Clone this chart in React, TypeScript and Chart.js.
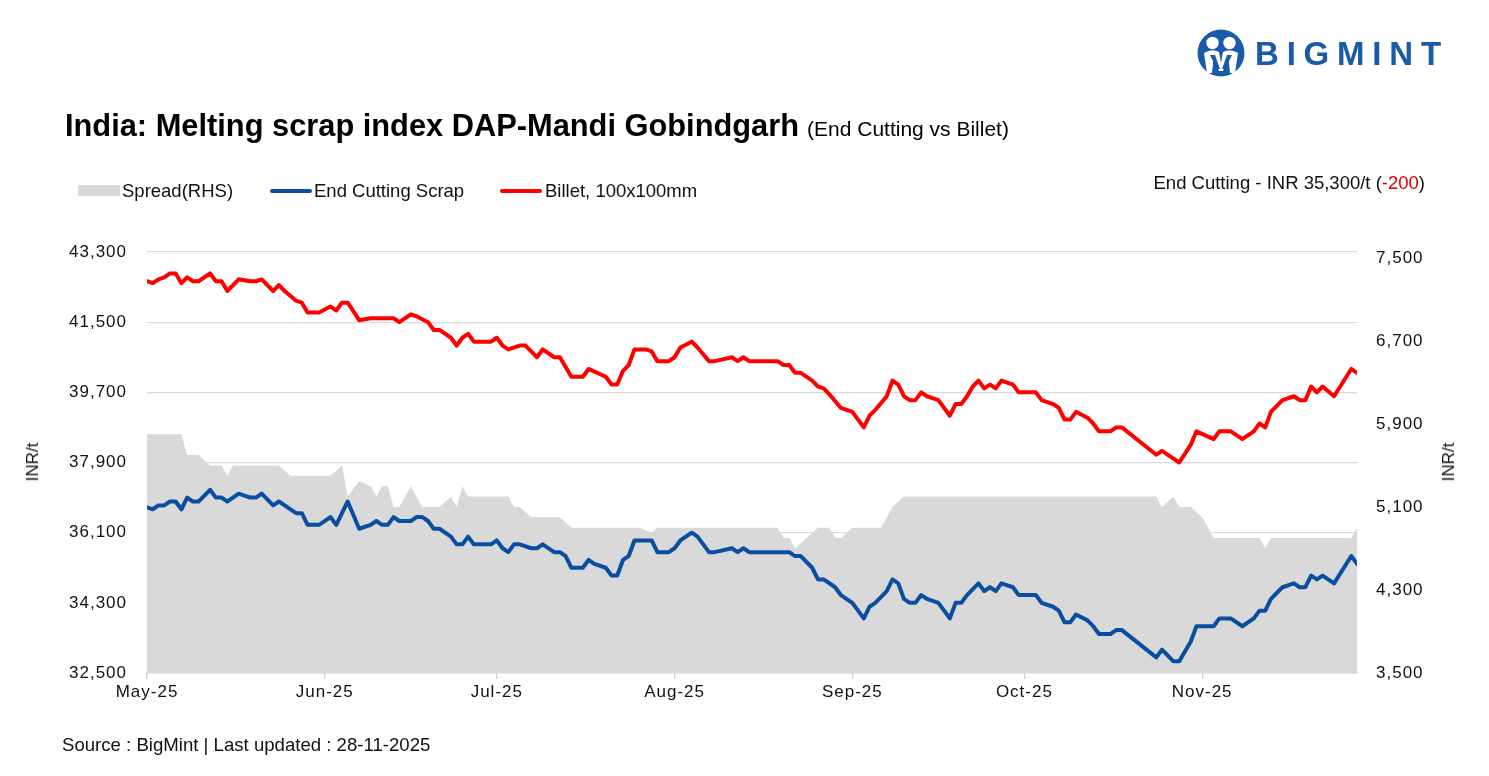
import React, { useEffect, useRef } from 'react';
import { Chart, registerables } from 'chart.js';

Chart.register(...registerables);

// ---- axis ticks ----
const monthTickDays = [0, 31, 61, 92, 123, 153, 184];
const monthTickLabels = ['May-25', 'Jun-25', 'Jul-25', 'Aug-25', 'Sep-25', 'Oct-25', 'Nov-25'];
const leftTicks = [32500, 34300, 36100, 37900, 39700, 41500, 43300];
const rightTicks = [3500, 4300, 5100, 5900, 6700, 7500];

// ---- End Cutting Scrap (day index from 1 May 2025, INR/t) ----
const scrapDays = [0, 1, 2, 3, 4, 5, 6, 7, 8, 9, 11, 12, 13, 14, 16, 18, 19, 20, 22, 23, 24, 26, 27, 28, 30, 32, 33, 34, 35, 37, 39, 40, 41, 42, 43, 44, 46, 47, 48, 49, 50, 51, 53, 54, 55, 56, 57, 60, 61, 62, 63, 64, 65, 67, 68, 69, 71, 72, 73, 74, 76, 77, 78, 80, 81, 82, 83, 84, 85, 88, 89, 91, 92, 93, 95, 96, 98, 99, 102, 103, 104, 105, 112, 113, 114, 116, 117, 118, 120, 121, 123, 124, 125, 126, 127, 129, 130, 131, 132, 133, 134, 135, 136, 138, 139, 140, 141, 142, 143, 144, 145, 146, 147, 148, 149, 151, 152, 155, 156, 158, 159, 160, 161, 162, 164, 165, 166, 168, 169, 170, 176, 177, 179, 180, 182, 183, 186, 187, 189, 191, 193, 194, 195, 196, 198, 200, 201, 202, 203, 204, 205, 207, 210, 211];
const scrapPrices = [36750, 36700, 36800, 36800, 36900, 36900, 36700, 37000, 36900, 36900, 37200, 37000, 37000, 36900, 37100, 37000, 37000, 37100, 36800, 36900, 36800, 36600, 36600, 36300, 36300, 36500, 36300, 36600, 36900, 36200, 36300, 36400, 36300, 36300, 36500, 36400, 36400, 36500, 36500, 36400, 36200, 36200, 36000, 35800, 35800, 36000, 35800, 35800, 35900, 35700, 35600, 35800, 35800, 35700, 35700, 35800, 35600, 35600, 35500, 35200, 35200, 35400, 35300, 35200, 35000, 35000, 35400, 35500, 35900, 35900, 35600, 35600, 35700, 35900, 36100, 36000, 35600, 35600, 35700, 35600, 35700, 35600, 35600, 35500, 35500, 35200, 34900, 34900, 34700, 34500, 34300, 34100, 33900, 34200, 34300, 34600, 34900, 34800, 34400, 34300, 34300, 34500, 34400, 34300, 34100, 33900, 34300, 34300, 34500, 34650, 34800, 34600, 34700, 34600, 34800, 34700, 34500, 34500, 34300, 34200, 34100, 33800, 33800, 34000, 33850, 33700, 33500, 33500, 33600, 33600, 32900, 33100, 32800, 32800, 33300, 33700, 33700, 33900, 33900, 33700, 33900, 34100, 34100, 34400, 34700, 34800, 34700, 34700, 35000, 34900, 35000, 34800, 35500, 35300];

// ---- Billet, 100x100mm ----
const billetDays = [0, 1, 2, 3, 4, 5, 6, 7, 8, 9, 11, 12, 13, 14, 16, 18, 19, 20, 22, 23, 24, 26, 27, 28, 30, 32, 33, 34, 35, 37, 39, 43, 44, 46, 47, 49, 50, 51, 53, 54, 55, 56, 57, 60, 61, 62, 63, 65, 66, 67, 68, 69, 71, 72, 74, 76, 77, 80, 81, 82, 83, 84, 85, 87, 88, 89, 91, 92, 93, 95, 96, 98, 99, 102, 103, 104, 105, 110, 111, 112, 113, 114, 116, 117, 118, 119, 121, 123, 124, 125, 126, 127, 129, 130, 131, 132, 133, 134, 135, 136, 138, 139, 140, 141, 142, 143, 144, 145, 146, 147, 148, 149, 151, 152, 155, 156, 158, 159, 160, 161, 162, 164, 165, 166, 168, 169, 170, 176, 177, 179, 180, 182, 183, 186, 187, 189, 191, 193, 194, 195, 196, 198, 200, 201, 202, 203, 204, 205, 207, 210, 211];
const billetPrices = [42550, 42500, 42600, 42650, 42750, 42750, 42500, 42650, 42550, 42550, 42750, 42550, 42550, 42300, 42600, 42550, 42550, 42600, 42300, 42450, 42300, 42050, 42000, 41750, 41750, 41900, 41800, 42000, 42000, 41550, 41600, 41600, 41500, 41700, 41650, 41500, 41300, 41300, 41100, 40900, 41100, 41200, 41000, 41000, 41100, 40900, 40800, 40900, 40900, 40750, 40600, 40800, 40600, 40600, 40100, 40100, 40300, 40100, 39900, 39900, 40250, 40400, 40800, 40800, 40750, 40500, 40500, 40600, 40850, 41000, 40850, 40500, 40500, 40600, 40500, 40600, 40500, 40500, 40400, 40400, 40200, 40200, 40000, 39850, 39800, 39650, 39300, 39200, 39000, 38800, 39100, 39250, 39600, 40000, 39900, 39600, 39500, 39500, 39700, 39600, 39500, 39300, 39100, 39400, 39400, 39600, 39850, 40000, 39800, 39900, 39800, 40000, 39900, 39700, 39700, 39500, 39400, 39300, 39000, 39000, 39200, 39050, 38900, 38700, 38700, 38800, 38800, 38100, 38200, 38000, 37900, 38350, 38700, 38500, 38700, 38700, 38500, 38700, 38900, 38800, 39200, 39500, 39600, 39500, 39500, 39850, 39700, 39850, 39600, 40300, 40200];

// ---- Spread (RHS) ----
const spreadDays = [0, 6, 7, 9, 11, 13, 14, 15, 23, 25, 32, 34, 35, 37, 39, 40, 41, 42, 43, 44, 46, 48, 51, 53, 54, 55, 56, 63, 64, 65, 67, 72, 74, 86, 88, 89, 110, 111, 112, 113, 115, 117, 119, 120, 121, 123, 128, 130, 132, 176, 177, 179, 180, 182, 184, 186, 194, 195, 196, 210, 211];
const spreadValues = [5800, 5800, 5600, 5600, 5500, 5500, 5400, 5500, 5500, 5400, 5400, 5500, 5200, 5350, 5300, 5200, 5300, 5300, 5100, 5100, 5300, 5100, 5100, 5200, 5100, 5300, 5200, 5200, 5100, 5100, 5000, 5000, 4900, 4900, 4850, 4900, 4900, 4800, 4800, 4700, 4800, 4900, 4900, 4800, 4800, 4900, 4900, 5100, 5200, 5200, 5100, 5200, 5100, 5100, 5000, 4800, 4800, 4700, 4800, 4800, 4900];

const FONT = '"Liberation Sans", Arial, sans-serif';
const BLUE = '#0a4ea2';
const RED = '#ff0000';
const GREY = '#d9d9d9';

const toPoints = (xs: number[], ys: number[]) => xs.map((x, i) => ({ x, y: ys[i] }));

export default function App() {
  const canvasRef = useRef<HTMLCanvasElement | null>(null);

  useEffect(() => {
    const canvas = canvasRef.current;
    if (!canvas) return;
    const spacingPlugin = {
      id: 'letterSpacing',
      beforeDraw(chart: any) {
        chart.ctx.letterSpacing = '1px';
      },
    };
    const tickFont = { family: FONT, size: 17 };
    const chart = new Chart(canvas, {
      type: 'line',
      data: {
        datasets: [
          {
            label: 'Billet, 100x100mm',
            data: toPoints(billetDays, billetPrices),
            yAxisID: 'y',
            borderColor: RED,
            borderWidth: 4,
            pointRadius: 0,
            fill: false,
            tension: 0,
            borderJoinStyle: 'round',
            borderCapStyle: 'round',
            order: 1,
          },
          {
            label: 'End Cutting Scrap',
            data: toPoints(scrapDays, scrapPrices),
            yAxisID: 'y',
            borderColor: BLUE,
            borderWidth: 4,
            pointRadius: 0,
            fill: false,
            tension: 0,
            borderJoinStyle: 'round',
            borderCapStyle: 'round',
            order: 2,
          },
          {
            label: 'Spread(RHS)',
            data: toPoints(spreadDays, spreadValues),
            yAxisID: 'y2',
            backgroundColor: GREY,
            borderColor: GREY,
            borderWidth: 0,
            pointRadius: 0,
            fill: 'start',
            tension: 0,
            order: 3,
          },
        ],
      } as any,
      options: {
        animation: false,
        responsive: false,
        events: [],
        layout: { padding: { top: 252, bottom: 63, left: 0, right: 0 } },
        plugins: {
          legend: { display: false },
          tooltip: { enabled: false },
          title: { display: false },
        },
        scales: {
          x: {
            type: 'linear',
            min: 0,
            max: 211,
            afterBuildTicks: (s: any) => {
              s.ticks = monthTickDays.map((v) => ({ value: v }));
            },
            afterFit: (s: any) => {
              s.height = 40;
            },
            ticks: {
              autoSkip: false,
              maxRotation: 0,
              padding: 3,
              color: '#111',
              font: tickFont,
              callback: (_v: any, i: number) => monthTickLabels[i],
            },
            grid: { drawOnChartArea: false, drawTicks: true, tickLength: 6, color: '#cfcfcf', lineWidth: 1.3 },
            border: { display: true, color: '#cfcfcf', width: 1.3 },
          },
          y: {
            position: 'left',
            min: 32500,
            max: 43300,
            afterBuildTicks: (s: any) => {
              s.ticks = leftTicks.map((v) => ({ value: v }));
            },
            afterFit: (s: any) => {
              s.width = 147;
            },
            ticks: {
              padding: 20,
              color: '#111',
              font: tickFont,
              callback: (v: any) => Number(v).toLocaleString('en-US'),
            },
            grid: { color: GREY, lineWidth: 1.3, drawTicks: false },
            border: { display: false },
          },
          y2: {
            position: 'right',
            min: 3500,
            max: 7556,
            afterBuildTicks: (s: any) => {
              s.ticks = rightTicks.map((v) => ({ value: v }));
            },
            afterFit: (s: any) => {
              s.width = 132;
            },
            ticks: {
              padding: 11,
              color: '#111',
              font: tickFont,
              callback: (v: any) => Number(v).toLocaleString('en-US'),
            },
            grid: { display: false },
            border: { display: false },
          },
        },
      } as any,
      plugins: [spacingPlugin],
    });
    return () => chart.destroy();
  }, []);

  const abs = (s: React.CSSProperties): React.CSSProperties => ({ position: 'absolute', whiteSpace: 'nowrap', ...s });

  return (
    <div
      style={{
        position: 'absolute',
        left: 0,
        top: 0,
        width: 1489,
        height: 776,
        background: '#fff',
        overflow: 'hidden',
        fontFamily: FONT,
        color: '#111',
      }}
    >
      <canvas ref={canvasRef} width={1489} height={776} style={{ position: 'absolute', left: 0, top: 0, width: 1489, height: 776 }} />

      {/* logo */}
      <svg style={abs({ left: 1197, top: 29 })} width={48} height={48} viewBox="0 0 48 48">
        <circle cx="24" cy="24" r="23.5" fill="#1a5aa8" />
        <circle cx="15.5" cy="14" r="6.2" fill="#fff" />
        <circle cx="32.5" cy="14" r="6.2" fill="#fff" />
        <path d="M7 24 Q15 19 22 23 L24 34 L26 23 Q33 19 41 24 L38 44 L33 44 L31.5 30 L26 42 L22 42 L16.5 30 L15 44 L10 44 Z" fill="#fff" />
        <path d="M13 26 L18 26 L23 40 L20 40 Z M35 26 L30 26 L25 40 L28 40 Z" fill="#1a5aa8" />
      </svg>
      <div style={abs({ left: 1255, top: 34, fontSize: 33, fontWeight: 700, letterSpacing: 7.8, color: '#1a5aa8', lineHeight: '40px' })}>
        BIGMINT
      </div>

      {/* title */}
      <div style={abs({ left: 65, top: 108, lineHeight: '36px', color: '#000' })}>
        <span style={{ fontSize: 30.8, fontWeight: 700 }}>India: Melting scrap index DAP-Mandi Gobindgarh</span>
        <span style={{ fontSize: 21, marginLeft: 8 }}>(End Cutting vs Billet)</span>
      </div>

      {/* legend */}
      <div style={abs({ left: 78, top: 185, width: 42, height: 11, background: GREY })} />
      <div style={abs({ left: 122, top: 180, fontSize: 18.5, lineHeight: '22px' })}>Spread(RHS)</div>
      <div style={abs({ left: 270, top: 189, width: 42, height: 4, background: BLUE, borderRadius: 2 })} />
      <div style={abs({ left: 314, top: 180, fontSize: 18.5, lineHeight: '22px' })}>End Cutting Scrap</div>
      <div style={abs({ left: 500, top: 189, width: 42, height: 4, background: RED, borderRadius: 2 })} />
      <div style={abs({ left: 545, top: 180, fontSize: 18.5, lineHeight: '22px' })}>Billet, 100x100mm</div>

      {/* latest value note */}
      <div style={abs({ right: 64, top: 172, fontSize: 18.5, lineHeight: '22px' })}>
        End Cutting - INR 35,300/t (<span style={{ color: '#e00000' }}>-200</span>)
      </div>

      {/* axis titles */}
      <div style={abs({ left: 33, top: 462, fontSize: 17, transform: 'translate(-50%, -50%) rotate(-90deg)' })}>INR/t</div>
      <div style={abs({ left: 1449, top: 462, fontSize: 17, transform: 'translate(-50%, -50%) rotate(-90deg)' })}>INR/t</div>

      {/* source */}
      <div style={abs({ left: 62, top: 734, fontSize: 18.6, lineHeight: '22px' })}>Source : BigMint | Last updated : 28-11-2025</div>
    </div>
  );
}
